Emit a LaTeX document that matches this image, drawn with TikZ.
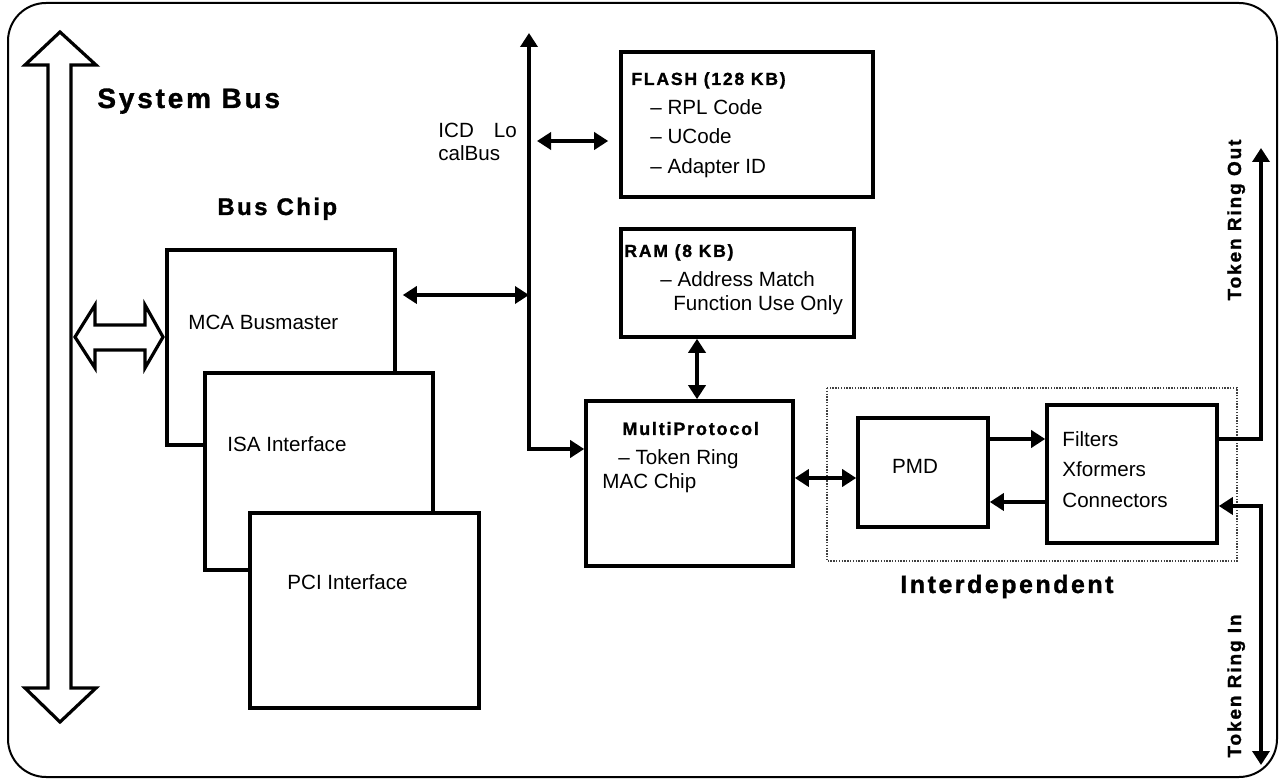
\documentclass[tikz,border=0pt]{standalone}
\usepackage{fontspec}
\setmainfont{Liberation Sans}
\newfontfamily\spaced[LetterSpace=10, BoldFeatures={FakeBold=1.2}]{Liberation Sans}
\usetikzlibrary{arrows.meta,fit}
\begin{document}
\begin{tikzpicture}[x=0.5pt,y=-0.5pt,
  box/.style={draw, line width=1.8pt, fill=white, inner sep=0pt},
  conn/.style={line width=1.8pt},
  hollow/.style={draw, line width=1.6pt, fill=white, line join=miter},
  >={Triangle[length=7pt,width=8.5pt]},
  lbl/.style={anchor=base west, inner sep=0pt, font=\fontsize{10.3}{12}\selectfont},
  ttl/.style={anchor=base west, inner sep=0pt},
]
\useasboundingbox (0,0) rectangle (1279,779);
% outer frame
\draw[line width=1pt, rounded corners=19pt] (8,3) rectangle (1277,777);

% system bus hollow arrow
\draw[hollow] (60,32) -- (96,65) -- (71,65) -- (71,688) -- (96,688) -- (60,722)
  -- (25,688) -- (48,688) -- (48,65) -- (25,65) -- cycle;
% horizontal hollow double arrow
\draw[hollow] (75,337) -- (95,305) -- (95,325) -- (145,325) -- (145,305) -- (163,337)
  -- (145,368) -- (145,350) -- (95,350) -- (95,368) -- cycle;

\node[ttl, font=\spaced\bfseries\fontsize{14}{16}\selectfont] (sysbus) at (97,108) {System Bus};
\node[ttl, font=\spaced\bfseries\fontsize{12}{14}\selectfont] (buschip) at (217,215) {Bus Chip};

% bus chip boxes
\node[box, fit={(167,250) (395,445)}] (mca) {};
\node[box, fit={(205,373) (433,570)}] (isa) {};
\node[box, fit={(250,513) (479,708)}] (pci) {};
\node[lbl] (mcat) at (188,330) {MCA Busmaster};
\node[lbl] (isat) at (227,452) {ISA Interface};
\node[lbl] (pcit) at (287,590) {PCI Interface};

% local bus
\coordinate (lbtop) at (529,33);
\coordinate (lbturn) at (529,449);
\coordinate (lbmca) at (529,295);
\coordinate (fa) at (537,141);
\node[lbl] (icd1) at (438,138) {ICD\hspace{0.97em}Lo};
\node[lbl] (icd2) at (438,161) {calBus};

% flash and ram
\node[box, fit={(621,52) (873,197)}] (flash) {};
\node[ttl, font=\spaced\bfseries\fontsize{8.8}{10}\selectfont] (flasht) at (631,85) {FLASH (128 KB)};
\node[lbl] (f1) at (650,115) {– RPL Code};
\node[lbl] (f2) at (650,144) {– UCode};
\node[lbl] (f3) at (650,174) {– Adapter ID};

\node[box, fit={(621,229) (854,337)}] (ram) {};
\node[ttl, font=\spaced\bfseries\fontsize{8.8}{10}\selectfont] (ramt) at (624,257) {RAM (8 KB)};
\node[lbl] (r1) at (660,287) {– Address Match};
\node[lbl] (r2) at (673,311) {Function Use Only};

% multiprotocol
\node[box, fit={(586,401) (793,566)}] (multi) {};
\node[ttl, font=\spaced\bfseries\fontsize{9}{10}\selectfont] (multit) at (622,435) {MultiProtocol};
\node[lbl] (m1) at (618,465) {– Token Ring};
\node[lbl] (m2) at (602,489) {MAC Chip};
\coordinate (rmx) at (697,370);

% interdependent group
\draw[line width=0.6pt, black!75, dash pattern=on 0.7pt off 0.7pt] (827,388) rectangle (1237,561);
\node[ttl, font=\spaced\bfseries\fontsize{12.5}{14}\selectfont] (interd) at (900,593) {Interdependent};
\node[box, fit={(858,418) (988,527)}] (pmd) {};
\node[anchor=base, inner sep=0pt, font=\fontsize{10.3}{12}\selectfont] (pmdt) at (915,474) {PMD};
\node[box, fit={(1047,405) (1217,543)}] (filt) {};
\node[lbl] (ft1) at (1062,447) {Filters};
\node[lbl] (ft2) at (1062,477) {Xformers};
\node[lbl] (ft3) at (1062,508) {Connectors};
\coordinate (mp) at (825,478);
\coordinate (c1) at (1020,439);
\coordinate (c2) at (1020,502);
\coordinate (outc) at (1261,439);
\coordinate (outtop) at (1261,148);
\coordinate (inc) at (1261,506);
\coordinate (inbot) at (1261,765);

\node[rotate=90, anchor=base, inner sep=0pt, font=\spaced\bfseries\fontsize{9.5}{10}\selectfont] (tro) at (1241,220) {Token Ring Out};
\node[rotate=90, anchor=base, inner sep=0pt, font=\spaced\bfseries\fontsize{9.5}{10}\selectfont] (tri) at (1241,686) {Token Ring In};

% connectors
\draw[conn, <->] ([xshift=3pt]mca.east |- lbmca) -- (lbmca);
\draw[conn, <->] (lbtop) -- (lbturn) -- (multi.west |- lbturn);
\draw[conn, <->] (fa) -- ([xshift=-5.5pt]flash.west |- fa);
\draw[conn, <->] (ram.south -| rmx) -- (multi.north -| rmx);
\draw[conn, <->] (multi.east |- mp) -- (pmd.west |- mp);
\draw[conn, ->] ([xshift=-1pt]pmd.east |- c1) -- (filt.west |- c1);
\draw[conn, ->] (filt.west |- c2) -- (pmd.east |- c2);
\draw[conn, ->] (filt.east |- outc) -- (outc) -- (outtop);
\draw[conn, <->] (filt.east |- inc) -- (inc) -- (inbot);
\end{tikzpicture}
\end{document}
